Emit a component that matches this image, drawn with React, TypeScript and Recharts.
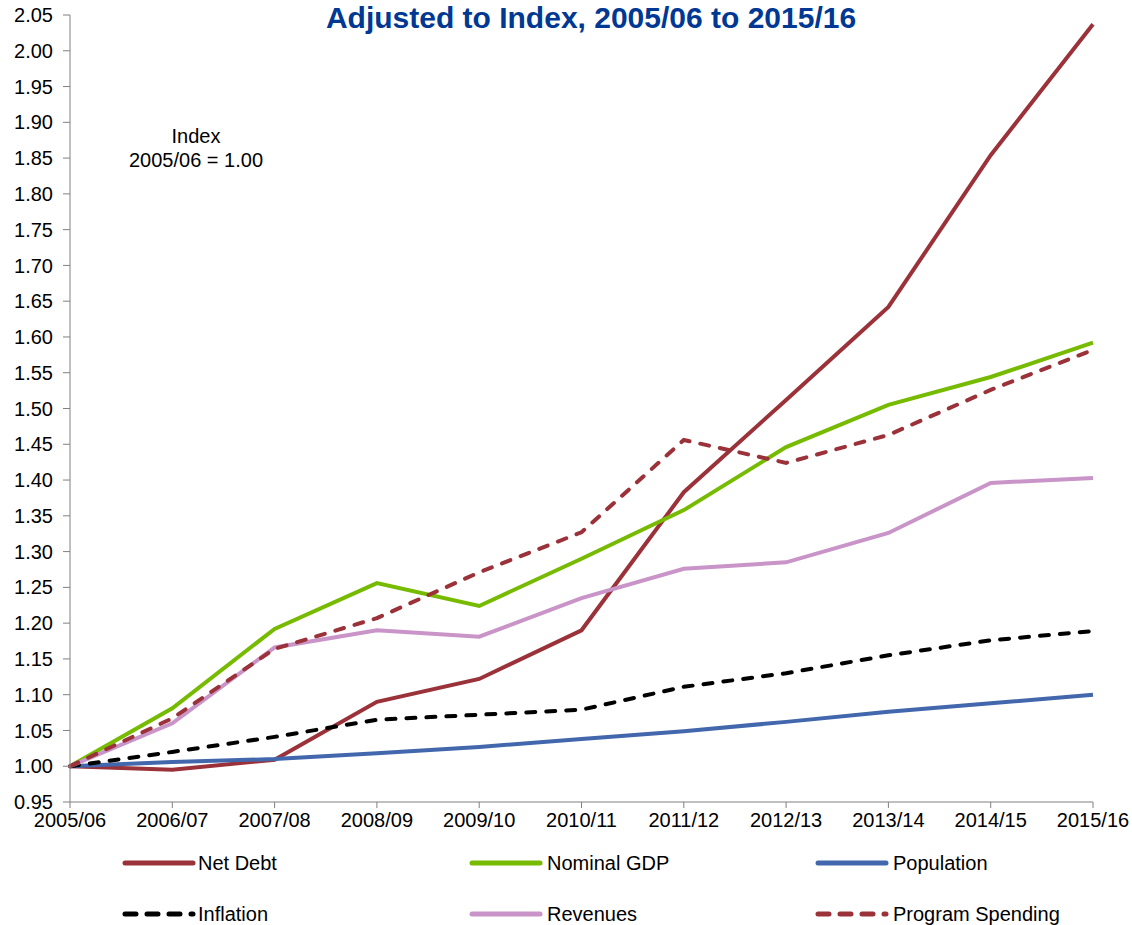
import React from 'react';
import { LineChart, Line, XAxis, YAxis, Legend } from 'recharts';

const categories = ['2005/06', '2006/07', '2007/08', '2008/09', '2009/10', '2010/11', '2011/12', '2012/13', '2013/14', '2014/15', '2015/16'];
const netDebt = [1.0, 0.995, 1.009, 1.09, 1.122, 1.19, 1.383, 1.512, 1.642, 1.854, 2.037];
const nominalGdp = [1.0, 1.081, 1.192, 1.256, 1.224, 1.29, 1.358, 1.446, 1.505, 1.544, 1.592];
const population = [1.0, 1.006, 1.01, 1.018, 1.027, 1.038, 1.049, 1.062, 1.076, 1.088, 1.1];
const inflation = [1.0, 1.02, 1.041, 1.065, 1.072, 1.079, 1.111, 1.13, 1.155, 1.176, 1.189];
const revenues = [1.0, 1.06, 1.166, 1.19, 1.181, 1.235, 1.276, 1.285, 1.326, 1.396, 1.403];
const programSpending = [1.0, 1.067, 1.164, 1.207, 1.271, 1.327, 1.456, 1.424, 1.463, 1.526, 1.582];
const yTicks = [0.95, 1.0, 1.05, 1.1, 1.15, 1.2, 1.25, 1.3, 1.35, 1.4, 1.45, 1.5, 1.55, 1.6, 1.65, 1.7, 1.75, 1.8, 1.85, 1.9, 1.95, 2.0, 2.05];

const data = categories.map((c, i) => ({
  year: c,
  netDebt: netDebt[i],
  nominalGdp: nominalGdp[i],
  population: population[i],
  inflation: inflation[i],
  revenues: revenues[i],
  programSpending: programSpending[i],
}));

const FONT = '"Liberation Sans", Arial, sans-serif';
const RED = '#9b323a';
const GREEN = '#77bb00';
const BLUE = '#4267ac';
const PINK = '#c994c7';

const series = [
  { key: 'netDebt', name: 'Net Debt', color: RED, dash: undefined as string | undefined },
  { key: 'nominalGdp', name: 'Nominal GDP', color: GREEN, dash: undefined },
  { key: 'population', name: 'Population', color: BLUE, dash: undefined },
  { key: 'inflation', name: 'Inflation', color: '#000000', dash: '9 11' },
  { key: 'revenues', name: 'Revenues', color: PINK, dash: undefined },
  { key: 'programSpending', name: 'Program Spending', color: RED, dash: '9 11' },
];

const legendCols = [
  { lineX1: 125, lineX2: 193, textX: 198 },
  { lineX1: 472, lineX2: 540, textX: 547 },
  { lineX1: 818, lineX2: 886, textX: 893 },
];
const legendRows = [21, 72];

const renderLegend = () => (
  <div style={{ width: 1132, height: 83, position: 'relative' }}>
    <svg width={1132} height={83} style={{ display: 'block' }}>
      {series.map((s, i) => {
        const col = legendCols[i % 3];
        const y = legendRows[Math.floor(i / 3)];
        return (
          <g key={s.key}>
            <line
              x1={col.lineX1}
              x2={col.lineX2}
              y1={y}
              y2={y}
              stroke={s.color}
              strokeWidth={5}
              strokeLinecap="round"
              strokeDasharray={s.dash ? '11 11' : undefined}
            />
            <text x={col.textX} y={y + 7} fontFamily={FONT} fontSize={20} fill="#000">
              {s.name}
            </text>
          </g>
        );
      })}
    </svg>
  </div>
);

export default function App() {
  return (
    <div style={{ position: 'absolute', left: 0, top: 0, width: 1132, height: 925, background: '#fff' }}>
      <LineChart width={1132} height={925} data={data} margin={{ top: 15, right: 39, left: 0, bottom: 0 }}>
        <XAxis
          dataKey="year"
          height={40}
          tickSize={6}
          tickMargin={5}
          stroke="#808080"
          tick={{ fill: '#000', fontSize: 20, fontFamily: FONT }}
          tickLine={{ stroke: '#808080' }}
          interval={0}
        />
        <YAxis
          width={70}
          domain={[0.95, 2.05]}
          ticks={yTicks}
          tickSize={7}
          tickMargin={10}
          stroke="#808080"
          tick={{ fill: '#000', fontSize: 20, fontFamily: FONT }}
          tickFormatter={(v: number) => v.toFixed(2)}
          allowDataOverflow
        />
        <Legend verticalAlign="bottom" content={renderLegend} wrapperStyle={{ left: 0, width: 1132 }} />
        {series.map((s) => (
          <Line
            key={s.key}
            type="linear"
            dataKey={s.key}
            name={s.name}
            stroke={s.color}
            strokeWidth={4}
            strokeDasharray={s.dash}
            strokeLinecap={s.dash ? 'round' : 'butt'}
            dot={false}
            activeDot={false}
            isAnimationActive={false}
          />
        ))}
      </LineChart>
      <svg width={1132} height={200} style={{ position: 'absolute', left: 0, top: 0, pointerEvents: 'none' }}>
        <text x={591} y={28} textAnchor="middle" fontFamily={FONT} fontWeight="bold" fontSize={30} fill="#003893">
          Adjusted to Index, 2005/06 to 2015/16
        </text>
        <text x={196} y={143} textAnchor="middle" fontFamily={FONT} fontSize={20} fill="#000">
          Index
        </text>
        <text x={196} y={167} textAnchor="middle" fontFamily={FONT} fontSize={20} fill="#000">
          2005/06 = 1.00
        </text>
      </svg>
    </div>
  );
}
